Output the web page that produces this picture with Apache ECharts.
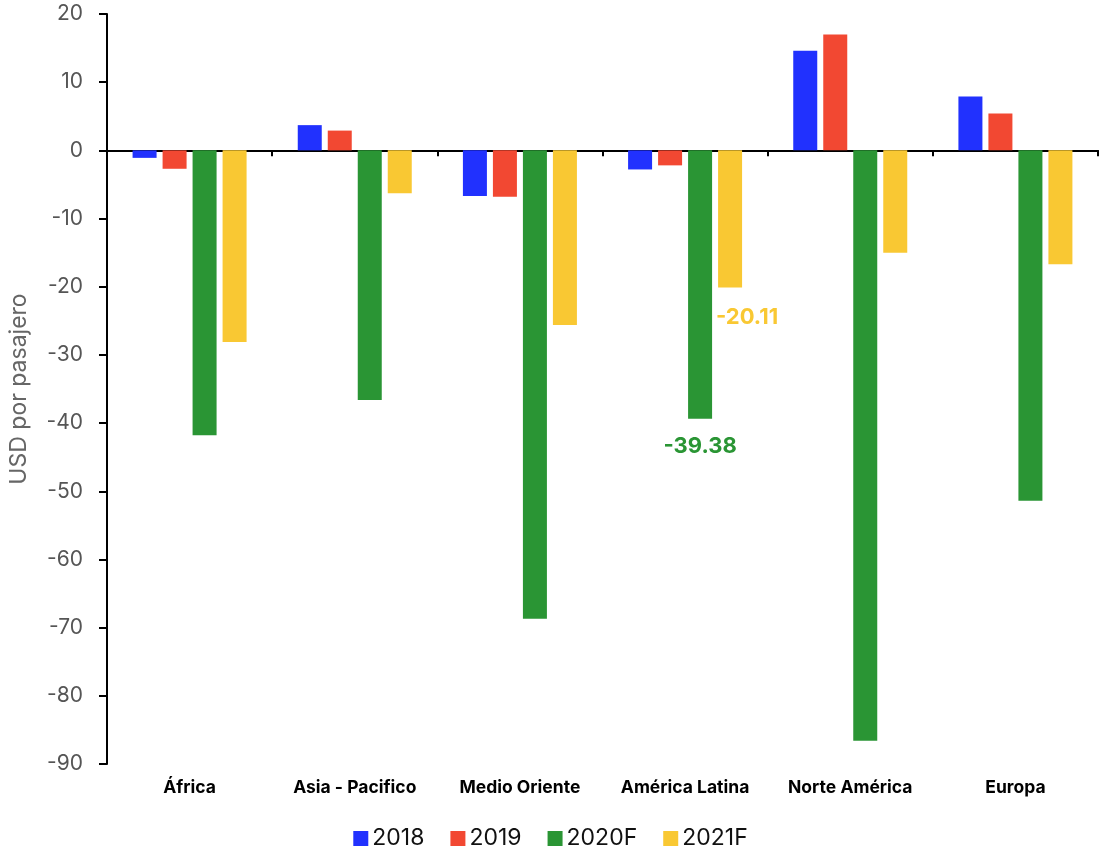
<!DOCTYPE html>
<html>
<head>
<meta charset="utf-8">
<script src="https://cdn.jsdelivr.net/npm/echarts@6/dist/echarts.min.js"></script>
<style>html,body{margin:0;padding:0;background:#fff;}#c{width:1101px;height:853px;}</style>
</head>
<body>
<div id="c"></div>
<script>
const categories = ['África', 'Asia - Pacifico', 'Medio Oriente', 'América Latina', 'Norte América', 'Europa'];
const seriesNames = ['2018', '2019', '2020F', '2021F'];
const v2018 = [-1.1, 3.7, -6.7, -2.8, 14.6, 7.9];
const v2019 = [-2.7, 2.9, -6.8, -2.2, 17.0, 5.4];
const v2020F = [-41.8, -36.6, -68.7, -39.38, -86.6, -51.4];
const v2021F = [-28.1, -6.3, -25.6, -20.11, -15.0, -16.7];
const yTicks = { min: -90, max: 20, interval: 10 };
const colors = ['#2131fe', '#f24832', '#2a9534', '#f9c833'];
const labelled = { '2020F': 3, '2021F': 3 };

const font = 'Inter, "Noto Sans", sans-serif';
const values = [v2018, v2019, v2020F, v2021F];

const series = seriesNames.map((name, si) => ({
  name: name,
  type: 'bar',
  xAxisIndex: 0,
  barWidth: 24,
  barGap: '25%',
  itemStyle: { color: colors[si] },
  data: values[si].map((v, i) => {
    if (labelled[name] === i) {
      return {
        value: v,
        label: {
          show: true,
          position: 'bottom',
          distance: name === '2020F' ? 17 : 19,
          offset: name === '2021F' ? [17, 0] : [0, 0],
          color: colors[si],
          fontFamily: font,
          fontWeight: 'bold',
          fontSize: 22,
          formatter: (p) => p.value.toFixed(2)
        }
      };
    }
    return v;
  })
}));

const chart = echarts.init(document.getElementById('c'));
chart.setOption({
  animation: false,
  backgroundColor: '#fff',
  grid: { left: 104, right: 3, top: 14, bottom: 89 },
  legend: {
    bottom: -2,
    left: 'center',
    icon: 'rect',
    itemWidth: 15,
    itemHeight: 15,
    itemGap: 26,
    textStyle: { fontFamily: font, fontSize: 23, color: '#111', padding: [0, 0, 0, -1] },
    data: seriesNames
  },
  xAxis: [
    {
      type: 'category',
      data: categories,
      position: 'bottom',
      axisLine: { show: false, onZero: false },
      axisTick: { show: false },
      axisLabel: { interval: 0, margin: 15, color: '#000', fontFamily: font, fontWeight: 'bold', fontSize: 17.5 }
    },
    {
      type: 'category',
      data: categories,
      position: 'bottom',
      axisLine: { show: true, onZero: true, lineStyle: { color: '#000', width: 2 } },
      axisTick: { show: true, inside: false, interval: 0, length: 6, lineStyle: { color: '#000', width: 2 } },
      axisLabel: { show: false }
    }
  ],
  yAxis: {
    type: 'value',
    min: yTicks.min,
    max: yTicks.max,
    interval: yTicks.interval,
    name: 'USD por pasajero',
    nameLocation: 'middle',
    nameGap: 76,
    nameTextStyle: { fontFamily: font, fontSize: 23, color: '#666' },
    axisLine: { show: true, lineStyle: { color: '#000', width: 2 } },
    axisTick: { show: true, length: 8, lineStyle: { color: '#000', width: 2 } },
    axisLabel: { margin: 24, color: '#555', fontFamily: font, fontSize: 21 },
    splitLine: { show: false }
  },
  series: series
});
</script>
</body>
</html>
